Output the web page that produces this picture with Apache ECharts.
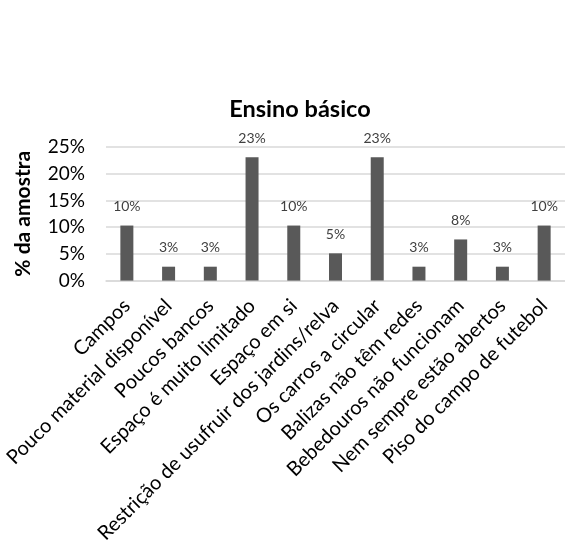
<!DOCTYPE html>
<html>
<head>
<meta charset="utf-8">
<script src="https://cdn.jsdelivr.net/npm/echarts@6/dist/echarts.min.js"></script>
<style>
  html, body { margin: 0; padding: 0; background: #fff; }
  #chart { width: 565px; height: 546px; }
</style>
</head>
<body>
<div id="chart"></div>
<script>
// Reasons reported by primary-school respondents
const categories = [
  'Campos',
  'Pouco material disponível',
  'Poucos bancos',
  'Espaço é muito limitado',
  'Espaço em si',
  'Restrição de usufruir dos jardins/relva',
  'Os carros a circular',
  'Balizas não têm redes',
  'Bebedouros não funcionam',
  'Nem sempre estão abertos',
  'Piso do campo de futebol'
];
// Share of the sample, in percent
const shares = [10.3, 2.6, 2.6, 23.1, 10.3, 5.1, 23.1, 2.6, 7.7, 2.6, 10.3];
const yTicks = [0, 5, 10, 15, 20, 25];

const FONT = 'Lato, "Open Sans", sans-serif';
const chart = echarts.init(document.getElementById('chart'), null, { renderer: 'canvas' });

chart.setOption({
  animation: false,
  backgroundColor: '#ffffff',
  title: {
    text: 'Ensino básico',
    left: 295,
    textAlign: 'center',
    top: 92,
    textStyle: { fontFamily: FONT, fontSize: 23.5, fontWeight: 'bold', color: '#000000' }
  },
  grid: { left: 106, top: 147, width: 462, height: 136, containLabel: false },
  xAxis: {
    type: 'category',
    data: categories,
    axisLine: { lineStyle: { color: '#d9d9d9', width: 1.5 } },
    axisTick: { show: false },
    axisLabel: {
      interval: 0,
      rotate: 45,
      margin: 22,
      fontFamily: FONT,
      fontSize: 20,
      color: '#000000'
    }
  },
  yAxis: {
    type: 'value',
    min: yTicks[0],
    max: yTicks[yTicks.length - 1],
    interval: 5,
    name: '% da amostra',
    nameLocation: 'middle',
    nameGap: 72,
    nameRotate: 90,
    nameTextStyle: { fontFamily: FONT, fontSize: 21, fontWeight: 'bold', color: '#000000' },
    axisLine: { show: false },
    axisTick: { show: false },
    splitLine: { lineStyle: { color: '#d9d9d9', width: 1.5 } },
    axisLabel: {
      margin: 21,
      fontFamily: FONT,
      fontSize: 19,
      color: '#000000',
      formatter: v => v + '%'
    }
  },
  series: [{
    type: 'bar',
    data: shares,
    barWidth: 13,
    itemStyle: { color: '#595959' },
    label: {
      show: true,
      position: 'top',
      distance: 12,
      fontFamily: FONT,
      fontSize: 14,
      color: '#404040',
      formatter: p => Math.round(p.value) + '%'
    }
  }]
});
</script>
</body>
</html>
